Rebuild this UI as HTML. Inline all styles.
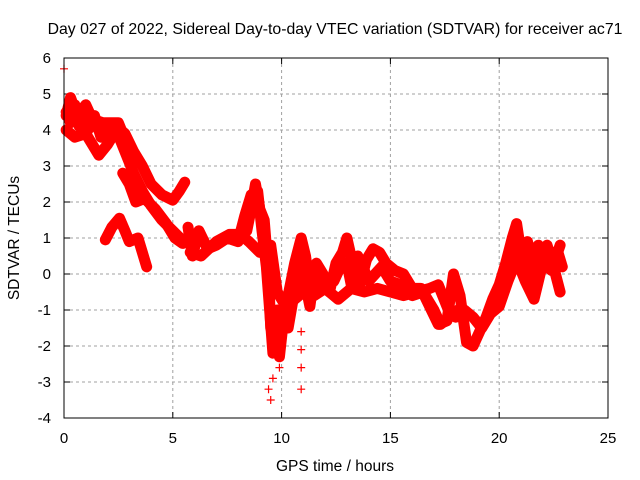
<!DOCTYPE html>
<html><head><meta charset="utf-8"><style>
body{margin:0;background:#fff}
svg{display:block;font-family:"Liberation Sans",Arial,sans-serif}
</style></head><body>
<svg id="chart" width="640" height="480" viewBox="0 0 640 480" xmlns="http://www.w3.org/2000/svg">
<rect width="640" height="480" fill="#fff"/>
<text x="335" y="34" font-size="15.8" text-anchor="middle">Day 027 of 2022, Sidereal Day-to-day VTEC variation (SDTVAR) for receiver ac71</text>
<text x="0" y="0" font-size="15.5" text-anchor="middle" transform="translate(19,238) rotate(-90)">SDTVAR / TECUs</text>
<text x="335" y="471" font-size="15.5" text-anchor="middle">GPS time / hours</text>
<g id="grid"></g><g id="ticks"></g><g id="marks"></g>
<rect x="64" y="58" width="544" height="360" fill="none" stroke="#000" stroke-width="1"/>
</svg>
<script>
const xTicks=[0,5,10,15,20,25];
const yTicks=[-4,-3,-2,-1,0,1,2,3,4,5,6];
const traceUpper=[[0.2,4.6],[0.5,4.5],[0.8,4.6],[1.2,4.3],[1.6,4.0],[2.0,4.1],[2.4,4.1],[2.8,3.9],[3.2,3.4],[3.6,3.0],[4.0,2.5],[4.5,2.2],[5.0,2.05],[5.3,2.3],[5.55,2.55]];
const traceSecond=[[0.1,4.0],[0.5,3.8],[1.0,3.9],[1.3,3.6],[1.6,3.3],[2.0,3.6],[2.4,4.0],[2.8,3.4],[3.2,2.8],[3.6,2.3],[4.0,1.9],[4.5,1.5],[5.0,1.2],[5.5,0.9]];
const traceMiddle=[[2.7,2.8],[3.0,2.5],[3.3,2.0],[3.7,2.1],[4.2,1.8],[4.7,1.4],[5.1,1.0],[5.45,0.85]];
const traceArc=[[1.9,0.95],[2.2,1.3],[2.55,1.55],[2.8,1.2],[3.0,0.9],[3.4,1.0],[3.6,0.6],[3.8,0.2]];
const traceTop=[[0.1,4.4],[0.3,4.9],[0.6,4.4],[1.0,4.7],[1.3,4.3],[1.8,4.2],[2.5,4.2],[2.9,3.6]];
const traceCluster=[[0.1,4.5],[0.3,4.2],[0.5,4.7],[0.7,4.1],[0.9,4.5],[1.1,4.0],[1.4,4.4],[1.7,3.8],[2.0,3.9]];
const traceMain=[[5.7,1.3],[5.9,0.5],[6.2,1.2],[6.6,0.7],[7.0,0.8],[7.5,1.0],[8.0,0.9],[8.3,1.6],[8.6,2.2],[8.9,2.3],[9.1,1.2],[9.3,0.2],[9.45,-1.0],[9.6,-2.2],[9.8,-1.0],[10.0,-1.6],[10.3,-0.6],[10.6,0.3],[10.9,1.0],[11.1,0.5],[11.3,-0.4],[11.6,0.3],[11.9,0.0],[12.2,-0.5],[12.5,0.3],[12.8,0.6],[13.0,1.0],[13.3,0.2],[13.6,-0.3],[13.9,0.4],[14.2,0.7],[14.5,0.6],[14.8,0.3],[15.2,0.1],[15.6,0.0],[16.0,-0.4],[16.4,-0.4],[16.8,-0.9],[17.2,-1.4],[17.6,-1.3],[17.9,0.0],[18.2,-0.6],[18.5,-1.9],[18.8,-2.0],[19.1,-1.6],[19.4,-1.2],[19.7,-0.7],[20.0,-0.3],[20.3,0.3],[20.6,1.0],[20.8,1.4],[21.0,0.6],[21.3,0.9],[21.6,0.2],[21.9,0.5],[22.2,0.8],[22.5,0.2],[22.8,-0.5]];
const traceLowBand=[[9.5,0.8],[9.8,-0.5],[10.2,-0.9],[10.6,-0.7],[11.0,-0.5],[11.5,-0.6],[12.0,-0.4],[12.6,-0.7],[13.2,-0.4],[13.8,-0.5],[14.4,-0.4],[15.0,-0.5],[15.6,-0.6],[16.2,-0.5],[16.8,-0.4],[17.2,-0.3],[17.6,-0.9],[18.0,-1.2],[18.4,-1.0],[18.8,-1.2],[19.2,-1.5],[19.6,-1.1],[20.0,-0.9],[20.4,-0.2],[20.8,0.4],[21.2,-0.2],[21.6,-0.7],[22.0,0.3],[22.4,0.1],[22.8,0.8]];
const traceBump=[[5.8,0.6],[6.3,0.5],[7.0,0.9],[7.6,1.1],[8.1,1.1],[8.5,0.9],[9.0,0.6]];
const traceStorm=[[8.4,1.2],[8.6,1.8],[8.8,2.5],[9.0,1.8],[9.2,1.5],[9.4,0.0],[9.5,-1.5],[9.7,-1.8],[9.9,-2.3],[10.1,-1.2],[10.3,-1.5],[10.5,-0.8],[10.7,-0.2],[10.9,0.5],[11.1,-0.3],[11.3,-0.9],[11.5,0.0],[11.8,-0.3]];
const traceHump=[[12.4,-0.2],[12.7,0.2],[13.0,0.3],[13.2,-0.3],[13.5,0.5],[13.8,0.1],[14.0,-0.2],[14.3,0.0],[14.6,0.2],[15.0,-0.2],[15.5,-0.3],[16.0,-0.6],[16.5,-0.5],[17.0,-1.0],[17.3,-1.4],[17.7,-1.2],[18.1,-1.0]];
const traceEnd=[[19.8,-0.9],[20.1,-0.4],[20.4,-0.1],[20.7,0.8],[21.0,0.2],[21.2,0.5],[21.5,-0.2],[21.8,0.8],[22.1,0.4],[22.4,0.6],[22.7,0.6],[22.9,0.2]];
const outliers=[[0.0,5.7],[9.5,-3.5],[9.4,-3.2],[10.9,-3.2],[10.9,-2.6],[10.9,-1.6],[10.9,-2.1],[9.9,-2.6],[9.6,-2.9]];
const traces=[traceUpper,traceSecond,traceMiddle,traceArc,traceTop,traceCluster,traceMain,traceLowBand,traceBump,traceStorm,traceHump,traceEnd];
const NS="http://www.w3.org/2000/svg";
function sx(v){return 64+v*(544/25);}
function sy(v){return 58+(6-v)*36;}
const grid=document.getElementById('grid'),ticks=document.getElementById('ticks'),marks=document.getElementById('marks');
function mk(tag,attrs,parent){const e=document.createElementNS(NS,tag);for(const k in attrs)e.setAttribute(k,attrs[k]);parent.appendChild(e);return e;}
xTicks.forEach(t=>{
  const x=sx(t);
  if(t>0&&t<25){const g=mk('line',{x1:x,y1:58,x2:x,y2:418,stroke:'#a0a0a0','stroke-dasharray':'3,3'},grid);
  
  }
  mk('line',{x1:x,y1:418,x2:x,y2:412,stroke:'#000'},ticks);
  mk('line',{x1:x,y1:58,x2:x,y2:64,stroke:'#000'},ticks);
  const l=mk('text',{x:x,y:443,'font-size':15,'text-anchor':'middle'},ticks);l.textContent=t;
  
  
});
yTicks.forEach(t=>{
  const y=sy(t);
  if(t>-4&&t<6){const g=mk('line',{x1:64,y1:y,x2:608,y2:y,stroke:'#a0a0a0','stroke-dasharray':'3,3'},grid);
  
  }
  mk('line',{x1:64,y1:y,x2:70,y2:y,stroke:'#000'},ticks);
  mk('line',{x1:608,y1:y,x2:602,y2:y,stroke:'#000'},ticks);
  const l=mk('text',{x:51,y:y+5,'font-size':15,'text-anchor':'end'},ticks);l.textContent=t;
  
  
});
function plus(x,y){const p=mk('path',{d:`M${sx(x)-4},${sy(y)}h8M${sx(x)},${sy(y)-4}v8`,stroke:'#f00','stroke-width':1.2,fill:'none'},marks);
  
  }
traces.forEach(tr=>{
  const pl=mk('polyline',{points:tr.map(p=>sx(p[0])+','+sy(p[1])).join(' '),stroke:'#f00','stroke-width':11,fill:'none','stroke-linejoin':'round','stroke-linecap':'round'},marks);
  
  
  tr.forEach(p=>plus(p[0],p[1]));
});
outliers.forEach(p=>plus(p[0],p[1]));
</script>
</body></html>
